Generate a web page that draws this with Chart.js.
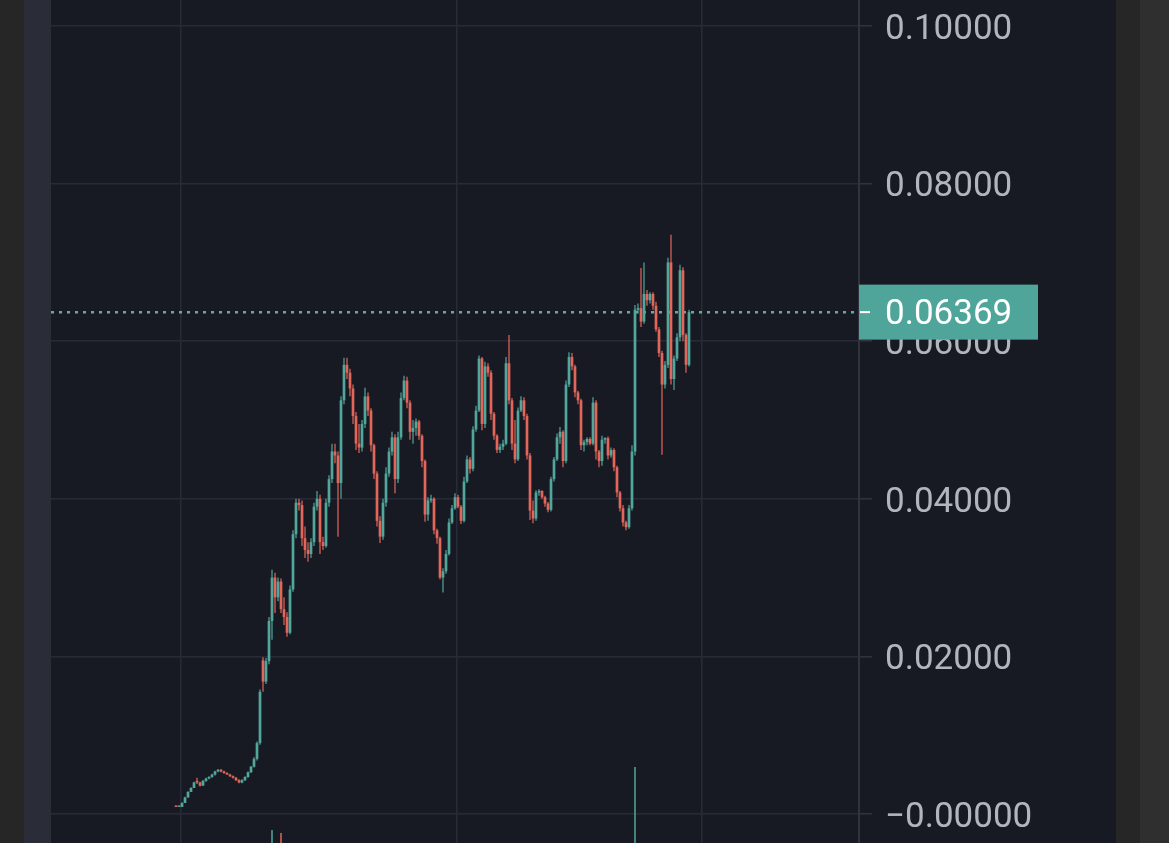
<!DOCTYPE html>
<html>
<head>
<meta charset="utf-8">
<script src="https://cdn.jsdelivr.net/npm/chart.js@4"></script>
<style>
  html, body { margin: 0; padding: 0; width: 1169px; height: 843px; overflow: hidden; background: #262626; }
  #strip { position: absolute; left: 24px; top: 0; width: 27px; height: 843px; background: #2a2c37; }
  #wrap { position: absolute; left: 51px; top: 0; width: 1065px; height: 843px; background: #181a23; }
  #edge { position: absolute; left: 1140px; top: 0; width: 29px; height: 843px; background: #2f2f2f; }
</style>
</head>
<body>
<div id="strip"></div>
<div id="wrap"><canvas id="priceChart" width="1065" height="843"></canvas></div>
<div id="edge"></div>
<script>
// candle values, one entry per bar (oldest first)
const opens = [
  .00095,.0009,.0009,.0014,.0021,.0028,.0033,.0042,.0040,.0036,
  .0042,.0045,.0047,.0050,.0054,.0056,.0054,.0052,.0050,.0048,
  .0046,.0043,.0040,.0043,.0047,.0053,.0060,.0070,.0090,.0195,
  .0168,.0194,.0245,.0300,.0275,.0295,.0260,.0250,.0230,.0285,
  .0355,.0395,.0392,.0350,.0335,.0330,.0345,.0390,.0400,.0345,
  .0340,.0395,.0425,.0460,.0455,.0420,.0525,.0570,.0560,.0540,
  .0505,.0470,.0465,.0495,.0530,.0512,.0468,.0432,.0372,.0352,
  .0395,.0432,.0460,.0478,.0425,.0478,.0528,.0550,.0522,.0485,
  .0490,.0498,.0480,.0448,.0380,.0398,.0400,.0360,.0350,.0300,
  .0308,.0330,.0370,.0388,.0402,.0390,.0372,.0422,.0450,.0438,
  .0488,.0512,.0578,.0495,.0568,.0560,.0508,.0480,.0462,.0466,
  .0470,.0572,.0525,.0470,.0450,.0512,.0525,.0505,.0455,.0385,
  .0375,.0408,.0410,.0402,.0394,.0386,.0425,.0450,.0478,.0485,
  .0448,.0545,.0580,.0568,.0535,.0525,.0468,.0472,.0476,.0470,
  .0522,.0460,.0448,.0475,.0477,.0455,.0462,.0440,.0408,.0388,
  .0370,.0364,.0388,.0460,.0640,.0642,.0625,.0660,.0652,.0660,
  .0645,.0615,.0585,.0545,.0570,.0700,.0552,.0578,.0605,.0690,
  .0608,.0570
];
const highs = [
  .0010,.0010,.0015,.0022,.0029,.0034,.0041,.0046,.0041,.0043,
  .0046,.0048,.0051,.0055,.0057,.0057,.0055,.0053,.0051,.0049,
  .0047,.0044,.0044,.0048,.0054,.0061,.0072,.0092,.0158,.0199,
  .0198,.0250,.0310,.0306,.0300,.0299,.0275,.0256,.0290,.0360,
  .0400,.0400,.0398,.0365,.0345,.0350,.0395,.0410,.0405,.0352,
  .0400,.0430,.0470,.0470,.0460,.0530,.0579,.0579,.0565,.0545,
  .0510,.0495,.0500,.0541,.0535,.0515,.0470,.0435,.0378,.0400,
  .0440,.0465,.0485,.0482,.0485,.0535,.0556,.0555,.0525,.0500,
  .0502,.0500,.0482,.0450,.0402,.0405,.0402,.0362,.0352,.0312,
  .0335,.0375,.0392,.0407,.0405,.0392,.0428,.0455,.0453,.0492,
  .0518,.0582,.0580,.0574,.0572,.0563,.0510,.0482,.0470,.0475,
  .0580,.0608,.0528,.0500,.0516,.0530,.0529,.0508,.0458,.0398,
  .0411,.0412,.0411,.0404,.0396,.0428,.0453,.0483,.0491,.0487,
  .0550,.0586,.0585,.0570,.0537,.0527,.0475,.0478,.0478,.0529,
  .0525,.0462,.0480,.0478,.0479,.0465,.0464,.0442,.0410,.0392,
  .0372,.0392,.0468,.0646,.0648,.0693,.0700,.0665,.0662,.0662,
  .0650,.0618,.0588,.0575,.0706,.0735,.0582,.0610,.0697,.0694,
  .0610,.0640
];
const lows = [
  .0009,.0009,.0009,.0014,.0021,.0028,.0033,.0038,.0035,.0036,
  .0041,.0044,.0046,.0049,.0053,.0053,.0051,.0050,.0047,.0045,
  .0042,.0039,.0039,.0042,.0046,.0052,.0059,.0068,.0088,.0155,
  .0165,.0190,.0221,.0255,.0270,.0255,.0240,.0225,.0228,.0282,
  .0350,.0385,.0340,.0325,.0320,.0325,.0340,.0385,.0330,.0335,
  .0338,.0390,.0420,.0445,.0352,.0400,.0520,.0552,.0530,.0495,
  .0462,.0458,.0460,.0490,.0505,.0460,.0425,.0365,.0344,.0348,
  .0390,.0428,.0455,.0407,.0420,.0475,.0525,.0515,.0475,.0470,
  .0480,.0475,.0440,.0371,.0372,.0395,.0355,.0343,.0298,.0281,
  .0305,.0328,.0368,.0386,.0388,.0368,.0370,.0420,.0432,.0435,
  .0485,.0510,.0487,.0490,.0555,.0500,.0475,.0458,.0458,.0462,
  .0468,.0520,.0462,.0445,.0448,.0510,.0500,.0450,.0373,.0369,
  .0372,.0404,.0400,.0390,.0383,.0384,.0422,.0448,.0470,.0440,
  .0445,.0542,.0563,.0529,.0520,.0462,.0460,.0468,.0468,.0468,
  .0450,.0440,.0442,.0470,.0450,.0452,.0435,.0402,.0384,.0365,
  .0360,.0362,.0385,.0455,.0635,.0618,.0622,.0645,.0648,.0640,
  .0612,.0580,.0456,.0540,.0566,.0545,.0538,.0575,.0600,.0600,
  .0560,.0568
];
const closes = [
  .0009,.00092,.0014,.0021,.0028,.0033,.0040,.0040,.0036,.0042,
  .0045,.0047,.0050,.0054,.0056,.0054,.0052,.0050,.0048,.0046,
  .0043,.0040,.0043,.0047,.0053,.0060,.0070,.0090,.0155,.0168,
  .0194,.0245,.0300,.0275,.0295,.0260,.0250,.0230,.0285,.0355,
  .0395,.0392,.0350,.0335,.0330,.0345,.0390,.0400,.0345,.0340,
  .0395,.0425,.0460,.0455,.0420,.0525,.0570,.0560,.0540,.0505,
  .0470,.0465,.0495,.0530,.0512,.0468,.0432,.0372,.0352,.0395,
  .0432,.0460,.0478,.0425,.0478,.0528,.0550,.0522,.0485,.0490,
  .0498,.0480,.0448,.0380,.0398,.0400,.0360,.0350,.0300,.0308,
  .0330,.0370,.0388,.0402,.0390,.0372,.0422,.0450,.0438,.0488,
  .0512,.0578,.0495,.0568,.0560,.0508,.0480,.0462,.0466,.0470,
  .0572,.0525,.0470,.0450,.0512,.0525,.0505,.0455,.0385,.0375,
  .0408,.0410,.0402,.0394,.0386,.0425,.0450,.0478,.0485,.0448,
  .0545,.0580,.0568,.0535,.0525,.0468,.0472,.0476,.0470,.0522,
  .0460,.0448,.0475,.0477,.0455,.0462,.0440,.0408,.0388,.0370,
  .0364,.0388,.0460,.0640,.0642,.0625,.0660,.0652,.0660,.0645,
  .0615,.0585,.0545,.0570,.0700,.0552,.0578,.0605,.0690,.0608,
  .0570,.06369
];

// the few volume bars that reach into view
const volumeAt = [32, 35, 153];
const volumes = [1.3, 1.0, 7.6];

// price axis ticks and time grid lines (in bar index units)
const priceTicks = [0, 0.02, 0.04, 0.06, 0.08, 0.10];
const timeGridAt = [1.67, 93.67, 175.33];

const X_MIN = -41.67, X_MAX = 227.67;
const Y_MIN = -0.00368, Y_MAX = 0.1033;

const UP = '#52a79c';
const DOWN = '#e3665b';
const GRID = '#282b37';
const lastPrice = closes[closes.length - 1];

const candleColor = ctx => {
  const i = ctx.dataIndex;
  return closes[i] >= opens[i] ? UP : DOWN;
};

const wickData = opens.map((_, i) => ({ x: i, y: [lows[i], highs[i]] }));
const bodyData = opens.map((_, i) => ({ x: i, y: [opens[i], closes[i]] }));
const volumeData = volumeAt.map((idx, k) => ({ x: idx, y: volumes[k] }));

const lastPriceLabel = {
  id: 'lastPriceLabel',
  afterDraw(chart) {
    const { ctx, chartArea } = chart;
    const y = chart.scales.y.getPixelForValue(lastPrice);
    ctx.save();
    ctx.fillStyle = '#50a59a';
    ctx.fillRect(chartArea.right, y - 27.5, 179, 55);
    ctx.strokeStyle = '#ffffff';
    ctx.lineWidth = 2;
    ctx.beginPath();
    ctx.moveTo(chartArea.right + 1, y);
    ctx.lineTo(chartArea.right + 11, y);
    ctx.stroke();
    ctx.fillStyle = '#ffffff';
    ctx.font = '35px Roboto';
    ctx.textBaseline = 'middle';
    ctx.textAlign = 'left';
    ctx.fillText(lastPrice.toFixed(5), chartArea.right + 26, y + 3);
    ctx.restore();
  }
};

new Chart(document.getElementById('priceChart'), {
  type: 'bar',
  data: {
    datasets: [
      {
        label: 'wick',
        data: wickData,
        backgroundColor: candleColor,
        grouped: false,
        maxBarThickness: 1.2,
        minBarLength: 1,
        order: 2
      },
      {
        label: 'body',
        data: bodyData,
        backgroundColor: candleColor,
        grouped: false,
        categoryPercentage: 1,
        barPercentage: 0.9,
        minBarLength: 1.5,
        order: 1
      },
      {
        label: 'volume',
        data: volumeData,
        yAxisID: 'yv',
        backgroundColor: ctx => candleColor({ dataIndex: volumeAt[ctx.dataIndex] }),
        grouped: false,
        maxBarThickness: 1.5,
        order: 3
      },
      {
        type: 'line',
        label: 'last',
        data: [{ x: X_MIN, y: lastPrice }, { x: X_MAX, y: lastPrice }],
        borderColor: '#58b0a4',
        borderWidth: 2.5,
        borderDash: [3, 5],
        pointRadius: 0,
        order: 5
      }
    ]
  },
  options: {
    responsive: false,
    animation: false,
    devicePixelRatio: 1,
    layout: { padding: 0 },
    plugins: { legend: { display: false }, tooltip: { enabled: false } },
    scales: {
      x: {
        type: 'linear',
        min: X_MIN,
        max: X_MAX,
        offset: false,
        ticks: { display: false },
        grid: { color: GRID, lineWidth: 1.5, drawTicks: false, offset: false },
        border: { display: false },
        afterBuildTicks: scale => { scale.ticks = timeGridAt.map(v => ({ value: v })); },
        afterFit: scale => { scale.height = 0; scale.paddingLeft = 0; scale.paddingRight = 0; }
      },
      y: {
        position: 'right',
        min: Y_MIN,
        max: Y_MAX,
        beginAtZero: false,
        afterBuildTicks: scale => { scale.ticks = priceTicks.map(v => ({ value: v })); },
        afterFit: scale => { scale.width = 257; scale.paddingTop = 0; scale.paddingBottom = 0; },
        ticks: {
          color: '#b2b5be',
          font: { family: 'Roboto', size: 35 },
          padding: 13,
          labelOffset: 4,
          callback: v => (v === 0 ? '\u22120.00000' : v.toFixed(5))
        },
        grid: { color: GRID, lineWidth: 1.5, tickLength: 13, tickColor: '#30333e' },
        border: { color: '#30333e', width: 2 }
      },
      yv: {
        display: false,
        min: 0,
        max: 84.3
      }
    }
  },
  plugins: [lastPriceLabel]
});
</script>
</body>
</html>
